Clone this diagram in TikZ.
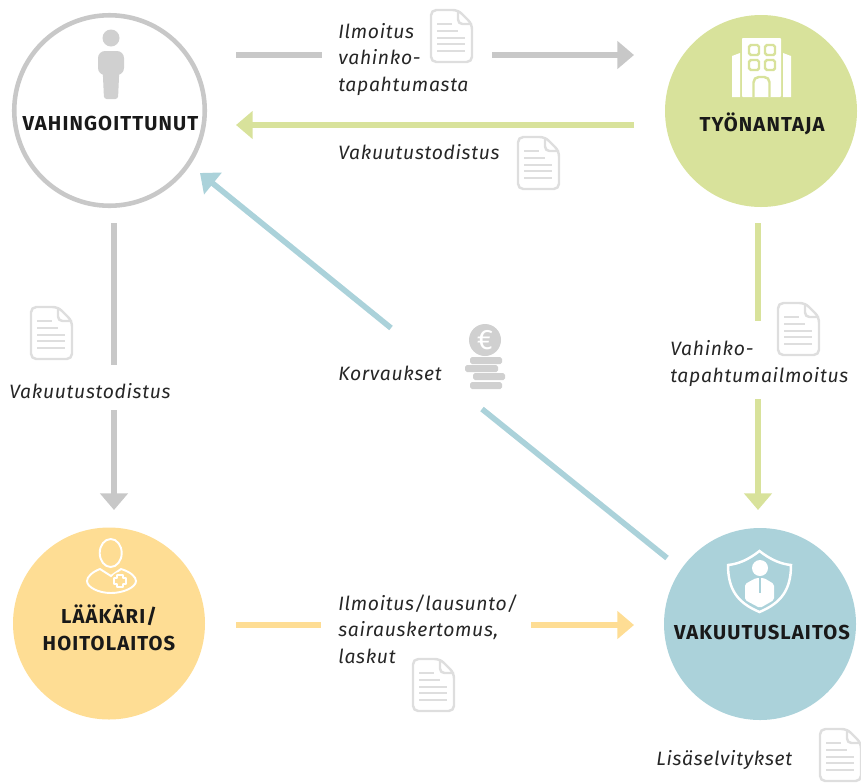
\documentclass[tikz,border=0pt]{standalone}
\usepackage{fontspec}
\setmainfont{Fira Sans}[LetterSpace=3.5, BoldFeatures={LetterSpace=5.5}]
\usetikzlibrary{arrows.meta}
\definecolor{harmaa}{HTML}{C8C8C8}
\definecolor{vaalea}{HTML}{DEDEDE}
\definecolor{vihrea}{HTML}{D8E29B}
\definecolor{keltainen}{HTML}{FEDD94}
\definecolor{sininen}{HTML}{ABD2DA}
\tikzset{
    osapuoli/.style={circle, inner sep=0pt, minimum size=192*0.02cm},
    otsikko/.style={font=\fontsize{11.5pt}{15.3pt}\selectfont\bfseries, align=center, text=black!90},
    selite/.style={font=\fontsize{11pt}{15pt}\selectfont\itshape, align=left, anchor=west, inner sep=0pt, text=black!85},
    viiva/.style={line width=3.2pt},
    nuoli/.style={line width=3.2pt, -{Triangle[length=9.5pt,width=15.5pt]}},
    pics/asiakirja/.style={code={
        \draw[vaalea, line width=1.4pt, rounded corners=3pt]
            (1,1) -- (28,1) -- (42,15) -- (42,53) -- (1,53) -- cycle;
        \draw[vaalea, line width=1.4pt, rounded corners=2.5pt] (28,1) -- (28,15) -- (42,15);
        \foreach \y/\l in {15/22, 22/28, 29/35, 35/35, 42/35}
            \draw[vaalea, line width=1pt] (7,\y) -- (\l,\y);
    }},
}
\begin{document}
\begin{tikzpicture}[x=0.02cm, y=-0.02cm]
    \useasboundingbox (0,0) rectangle (861,782);

    % circles
    \node[osapuoli, draw=harmaa, line width=2.6pt, minimum size=190.5*0.02cm, fill=white] (vahingoittunut) at (109.5,110.5) {};
    \node[osapuoli, fill=vihrea] (tyonantaja) at (761,111) {};
    \node[osapuoli, fill=keltainen] (laakari) at (109,623.5) {};
    \node[osapuoli, fill=sininen] (vakuutuslaitos) at (760,624) {};

    \node[otsikko] (vahingoittunutnimi) at (110.5,123.5) {VAHINGOITTUNUT};
    \node[otsikko] (tyonantajanimi) at (762,123.5) {TYÖNANTAJA};
    \node[otsikko] (laakarinimi) at (109,627.5) {LÄÄKÄRI/\\HOITOLAITOS};
    \node[otsikko] (vakuutuslaitosnimi) at (762,632.5) {VAKUUTUSLAITOS};

    % connector ends
    \coordinate (a1) at (236,55);   \coordinate (a2) at (322,55);
    \coordinate (a3) at (492,55);   \coordinate (a4) at (634,55);
    \coordinate (b1) at (634,125);  \coordinate (b2) at (236,125);
    \coordinate (c1) at (114,223);  \coordinate (c2) at (114,365);
    \coordinate (c3) at (114,410);  \coordinate (c4) at (114,510);
    \coordinate (d1) at (758,223);  \coordinate (d2) at (758,321);
    \coordinate (d3) at (758,399);  \coordinate (d4) at (758,510);
    \coordinate (e1) at (236,625);  \coordinate (e2) at (321,625);
    \coordinate (e3) at (531,625);  \coordinate (e4) at (634,625);
    \coordinate (f1) at (667,558);  \coordinate (f2) at (482,409);
    \coordinate (f3) at (391,328);  \coordinate (f4) at (200,173);

    \draw[viiva, harmaa] (a1) -- (a2);
    \draw[nuoli, harmaa] (a3) -- (a4);
    \draw[nuoli, vihrea] (b1) -- (b2);
    \draw[viiva, harmaa] (c1) -- (c2);
    \draw[nuoli, harmaa] (c3) -- (c4);
    \draw[viiva, vihrea] (d1) -- (d2);
    \draw[nuoli, vihrea] (d3) -- (d4);
    \draw[viiva, keltainen] (e1) -- (e2);
    \draw[nuoli, keltainen] (e3) -- (e4);
    \draw[viiva, sininen] (f1) -- (f2);
    \draw[nuoli, sininen] (f3) -- (f4);

    % labels
    \node[selite] (ilmoitus) at (338,59.5) {Ilmoitus\\vahinko-\\tapahtumasta};
    \node[selite] (todistus1) at (338,152) {Vakuutustodistus};
    \node[selite] (todistus2) at (9,391) {Vakuutustodistus};
    \node[selite] (korvaukset) at (338,373) {Korvaukset};
    \node[selite] (vahinkoilmoitus) at (670,363.5) {Vahinko-\\tapahtumailmoitus};
    \node[selite] (lausunto) at (338,629) {Ilmoitus/lausunto/\\sairauskertomus,\\laskut};
    \node[selite] (lisaselvitykset) at (656,760) {Lisäselvitykset};

    % documents
    \pic at (430,9) {asiakirja};
    \pic at (517,136) {asiakirja};
    \pic at (30,306) {asiakirja};
    \pic at (777,302) {asiakirja};
    \pic at (412,658) {asiakirja};
    \pic at (819,728) {asiakirja};

    % coins
    \fill[harmaa!85] (485,340) circle (16);
    \node[text=white, font=\fontsize{16pt}{16pt}\selectfont, inner sep=0pt] (euro) at (485,340) {€};
    \fill[harmaa!85, rounded corners=1pt] (470,357) rectangle (502,364);
    \fill[harmaa!85, rounded corners=1pt] (465,365) rectangle (498,372);
    \fill[harmaa!85, rounded corners=1pt] (473,373) rectangle (505,380);
    \fill[harmaa!85, rounded corners=1pt] (470,382) rectangle (502,389);

    % person
    \fill[harmaa!85] (111,38) circle (8.5);
    \fill[harmaa!85, rounded corners=4pt] (98,51) rectangle (124,75);
    \fill[harmaa!85, rounded corners=1.5pt] (102.5,66) -- (119.5,66) -- (118,99) -- (104,99) -- cycle;

    % building
    \fill[white, rounded corners=0.5pt] (742,38) rectangle (781,97);
    \fill[white] (732,56) -- (740,53) -- (740,97) -- (732,97) -- cycle;
    \fill[white] (791,56) -- (783,53) -- (783,97) -- (791,97) -- cycle;
    \foreach \x/\y in {754/50, 770/50, 754/65, 770/65}
        \draw[vihrea, line width=1.4pt, rounded corners=1pt] (\x-5,\y-5) rectangle (\x+5,\y+5);
    \draw[vihrea, line width=1.4pt, rounded corners=3pt] (753.5,97) -- (753.5,77) -- (769.5,77) -- (769.5,97);

    % doctor
    \draw[white, line width=1.1pt] (110.7,553) ellipse (11 and 14);
    \draw[white, line width=1.1pt] (100,569) .. controls (92,572) and (87,577) .. (87,581)
        .. controls (87,587) and (98,593) .. (111,593) .. controls (124,593) and (136,587) .. (136,581)
        .. controls (136,577) and (131,572) .. (121,569) -- (111,576) -- cycle;
    \fill[keltainen] (120,581) circle (9);
    \draw[white, line width=1.1pt, rounded corners=0.3pt] (117,575) -- (123,575) -- (123,578) -- (126,578) -- (126,584) -- (123,584) -- (123,587)
        -- (117,587) -- (117,584) -- (114,584) -- (114,578) -- (117,578) -- cycle;

    % shield
    \draw[white, line width=1.4pt] (759.5,551) .. controls (748,560) and (738,564) .. (728,565)
        .. controls (728,590) and (738,603) .. (759.5,612) .. controls (781,603) and (791,590) .. (791,565)
        .. controls (781,564) and (771,560) .. (759.5,551) -- cycle;
    \fill[white] (760,568) circle (8);
    \fill[white, rounded corners=1pt] (745,600) -- (745,584) -- (756,578) -- (764,578) -- (774,584) -- (774,600) -- (760,608) -- cycle;
    \draw[sininen, line width=0.6pt] (760,578) -- (760,593);
\end{tikzpicture}
\end{document}
